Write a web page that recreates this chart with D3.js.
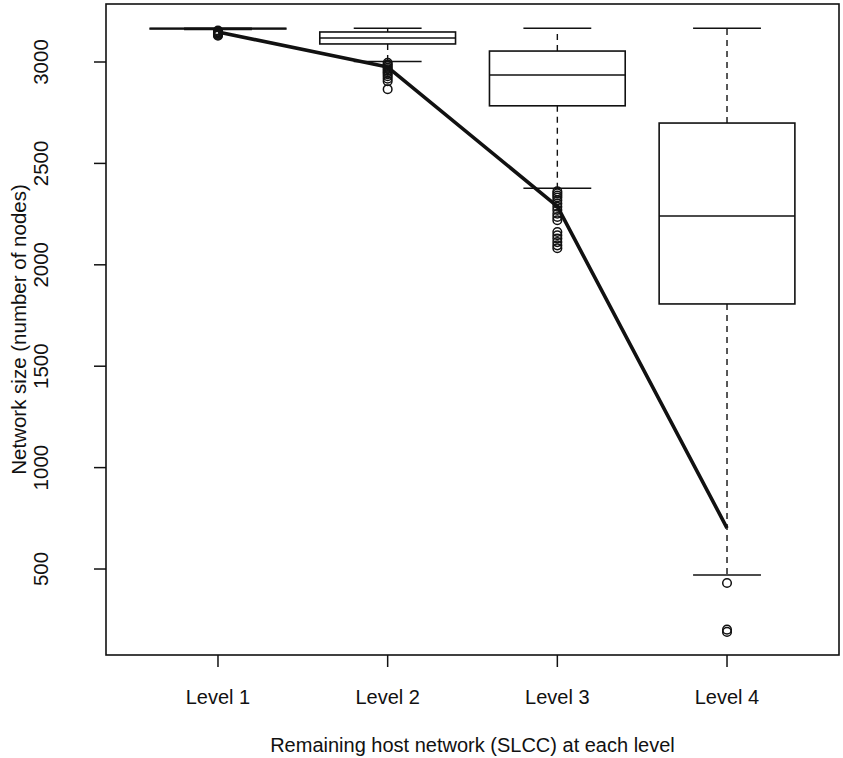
<!DOCTYPE html>
<html>
<head>
<meta charset="utf-8">
<script src="https://cdn.jsdelivr.net/npm/d3@7/dist/d3.min.js"></script>
<style>
  html, body { margin: 0; padding: 0; background: #fff; }
  svg text { font-family: "Liberation Sans", Arial, Helvetica, sans-serif; fill: #111; }
</style>
</head>
<body>
<svg id="chart" width="843" height="758"></svg>
<script>
// Network size of the remaining host network (SLCC) at each removal level
const categories = ["Level 1", "Level 2", "Level 3", "Level 4"];
const lowerWhisker = [3160, 3003, 2378, 470];
const q1 = [3163, 3089, 2784, 1807];
const median = [3165, 3118, 2936, 2241];
const q3 = [3166, 3148, 3054, 2699];
const upperWhisker = [3167, 3167, 3167, 3167];
const outliers = [
  [3155, 3150, 3146, 3142, 3138, 3134, 3130],
  [2996, 2988, 2980, 2972, 2964, 2956, 2948, 2940, 2930, 2918, 2905, 2866],
  [2362, 2352, 2342, 2332, 2318, 2302, 2286, 2270, 2252, 2236, 2220,
   2162, 2146, 2130, 2112, 2096, 2082],
  [431, 201, 190]
];
const means = [3148, 2975, 2288, 702];
const yTicks = [500, 1000, 1500, 2000, 2500, 3000];

const svg = d3.select("#chart");
const plot = { left: 106, right: 839, top: 4, bottom: 655 };

const x = d3.scaleLinear().domain([0.34, 4.66]).range([plot.left, plot.right]);
const y = d3.scaleLinear().domain([76, 3286]).range([plot.bottom, plot.top]);
const unit = x(1) - x(0);
const boxHalf = 0.4 * unit;
const capHalf = 0.2 * unit;

const ink = "#111";
const hFont = 20;   // horizontal text
const vFont = 20.5; // rotated text

// boxes
const g = svg.append("g");
categories.forEach((c, i) => {
  const cx = x(i + 1);
  // whiskers (dashed)
  g.append("line")
    .attr("x1", cx).attr("x2", cx)
    .attr("y1", y(q3[i])).attr("y2", y(upperWhisker[i]))
    .attr("stroke", ink).attr("stroke-width", 1.4).attr("stroke-dasharray", "6,5");
  g.append("line")
    .attr("x1", cx).attr("x2", cx)
    .attr("y1", y(q1[i])).attr("y2", y(lowerWhisker[i]))
    .attr("stroke", ink).attr("stroke-width", 1.4).attr("stroke-dasharray", "6,5");
  // caps
  [upperWhisker[i], lowerWhisker[i]].forEach(v => {
    g.append("line")
      .attr("x1", cx - capHalf).attr("x2", cx + capHalf)
      .attr("y1", y(v)).attr("y2", y(v))
      .attr("stroke", ink).attr("stroke-width", 1.5);
  });
  // box
  g.append("rect")
    .attr("x", cx - boxHalf).attr("width", 2 * boxHalf)
    .attr("y", y(q3[i])).attr("height", Math.max(0, y(q1[i]) - y(q3[i])))
    .attr("fill", "#fff").attr("stroke", ink).attr("stroke-width", 1.6);
  // median
  g.append("line")
    .attr("x1", cx - boxHalf).attr("x2", cx + boxHalf)
    .attr("y1", y(median[i])).attr("y2", y(median[i]))
    .attr("stroke", ink).attr("stroke-width", 1.6);
  // outliers
  g.selectAll(null).data(outliers[i]).enter().append("circle")
    .attr("cx", cx).attr("cy", d => y(d)).attr("r", 4.3)
    .attr("fill", "none").attr("stroke", ink).attr("stroke-width", 1.5);
});

// line through the level means
const line = d3.line().x((d, i) => x(i + 1)).y(d => y(d));
svg.append("path").datum(means)
  .attr("d", line)
  .attr("fill", "none").attr("stroke", ink).attr("stroke-width", 3.6)
  .attr("stroke-linejoin", "round");

// frame
svg.append("rect")
  .attr("x", plot.left).attr("y", plot.top)
  .attr("width", plot.right - plot.left).attr("height", plot.bottom - plot.top)
  .attr("fill", "none").attr("stroke", ink).attr("stroke-width", 1.6);

// y axis
const yAxis = svg.append("g");
yTicks.forEach(t => {
  yAxis.append("line")
    .attr("x1", plot.left - 12).attr("x2", plot.left)
    .attr("y1", y(t)).attr("y2", y(t))
    .attr("stroke", ink).attr("stroke-width", 1.5);
  yAxis.append("text")
    .attr("transform", `translate(48,${y(t)}) rotate(-90)`)
    .attr("text-anchor", "middle")
    .attr("font-size", vFont)
    .text(t);
});

// x axis
const xAxis = svg.append("g");
categories.forEach((c, i) => {
  xAxis.append("line")
    .attr("x1", x(i + 1)).attr("x2", x(i + 1))
    .attr("y1", plot.bottom).attr("y2", plot.bottom + 12)
    .attr("stroke", ink).attr("stroke-width", 1.5);
  xAxis.append("text")
    .attr("x", x(i + 1)).attr("y", 704)
    .attr("text-anchor", "middle")
    .attr("font-size", hFont)
    .text(c);
});

// axis titles
svg.append("text")
  .attr("x", (plot.left + plot.right) / 2).attr("y", 752)
  .attr("text-anchor", "middle").attr("font-size", hFont)
  .text("Remaining host network (SLCC) at each level");
svg.append("text")
  .attr("transform", `translate(26,${(plot.top + plot.bottom) / 2}) rotate(-90)`)
  .attr("text-anchor", "middle").attr("font-size", vFont)
  .text("Network size (number of nodes)");
</script>
</body>
</html>
